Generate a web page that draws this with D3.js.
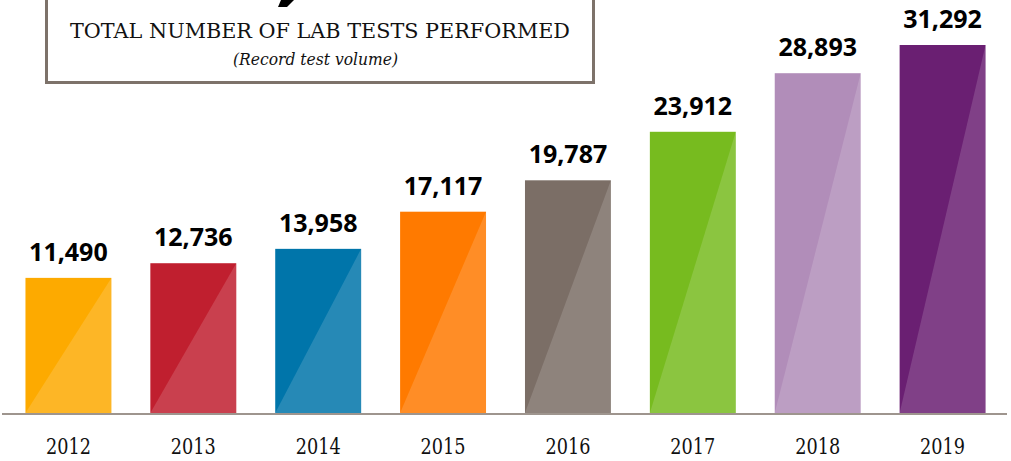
<!DOCTYPE html>
<html>
<head>
<meta charset="utf-8">
<script src="https://cdn.jsdelivr.net/npm/d3@7"></script>
<style>
  body { margin: 0; background: #fff; }
  svg { display: block; }
</style>
</head>
<body>
<script>
// chart data
const years = ["2012", "2013", "2014", "2015", "2016", "2017", "2018", "2019"];
const tests = [11490, 12736, 13958, 17117, 19787, 23912, 28893, 31292];
const barColors = ["#fdaa00", "#c01f2f", "#0075aa", "#ff7a00", "#7b6e66", "#77bb1f", "#b18db9", "#6a1f72"];

const width = 1011;
const height = 461;
const baseY = 413;

const svg = d3.select("body").append("svg").attr("width", width).attr("height", height);

//Scales
const xScale = d3.scaleBand().domain(years).range([-12, 1023]).paddingInner(0.312).paddingOuter(0.3);
const yScale = d3.scaleLinear().domain([0, 31292]).range([baseY, 45]);

//Title box
svg.append("rect")
  .attr("x", 46.5).attr("y", -20)
  .attr("width", 547).attr("height", 102.5)
  .attr("fill", "#fff")
  .attr("stroke", "#7d726a")
  .attr("stroke-width", 3);

// tail of the big headline figure that sits above the window
svg.append("path")
  .attr("d", "M281,0L294,0L287,7L278,7Z")
  .attr("fill", "#000");

svg.append("text")
  .attr("x", 320).attr("y", 38)
  .attr("text-anchor", "middle")
  .attr("font-family", "'DejaVu Serif', serif")
  .attr("font-size", 21)
  .attr("textLength", 500)
  .attr("lengthAdjust", "spacingAndGlyphs")
  .attr("fill", "#111")
  .text("TOTAL NUMBER OF LAB TESTS PERFORMED");

svg.append("text")
  .attr("x", 315.5).attr("y", 65)
  .attr("text-anchor", "middle")
  .attr("font-family", "'DejaVu Serif', serif")
  .attr("font-style", "italic")
  .attr("font-size", 16)
  .attr("textLength", 165)
  .attr("lengthAdjust", "spacingAndGlyphs")
  .attr("fill", "#111")
  .text("(Record test volume)");

//Bars
const bars = svg.selectAll(".bar")
  .data(years)
  .enter()
  .append("g")
  .attr("class", "bar");

bars.append("rect")
  .attr("x", (d) => xScale(d))
  .attr("y", (d, i) => yScale(tests[i]))
  .attr("width", xScale.bandwidth())
  .attr("height", (d, i) => baseY - yScale(tests[i]))
  .attr("fill", (d, i) => barColors[i]);

// lighter diagonal half
bars.append("path")
  .attr("d", (d, i) => {
    const x0 = xScale(d);
    const x1 = x0 + xScale.bandwidth();
    return `M${x0},${baseY}L${x1},${yScale(tests[i])}L${x1},${baseY}Z`;
  })
  .attr("fill", "#fff")
  .attr("opacity", 0.15);

bars.append("text")
  .attr("x", (d) => xScale(d) + xScale.bandwidth() / 2)
  .attr("y", (d, i) => yScale(tests[i]) - 17)
  .attr("text-anchor", "middle")
  .attr("font-family", "'Open Sans', sans-serif")
  .attr("font-weight", 700)
  .attr("font-size", 25)
  .attr("fill", "#000")
  .text((d, i) => d3.format(",")(tests[i]));

//Baseline
svg.append("line")
  .attr("x1", 2).attr("x2", 1007)
  .attr("y1", baseY + 1).attr("y2", baseY + 1)
  .attr("stroke", "#9e958e")
  .attr("stroke-width", 2);

//Year labels
const xAxis = d3.axisBottom(xScale).tickSize(0).tickPadding(0);
const axisG = svg.append("g")
  .attr("transform", "translate(0," + 454 + ")")
  .call(xAxis);
axisG.select(".domain").remove();
axisG.selectAll("text")
  .attr("dy", 0)
  .attr("font-family", "'DejaVu Serif', serif")
  .attr("font-size", 23)
  .attr("textLength", 45)
  .attr("lengthAdjust", "spacingAndGlyphs")
  .attr("fill", "#111");
</script>
</body>
</html>
